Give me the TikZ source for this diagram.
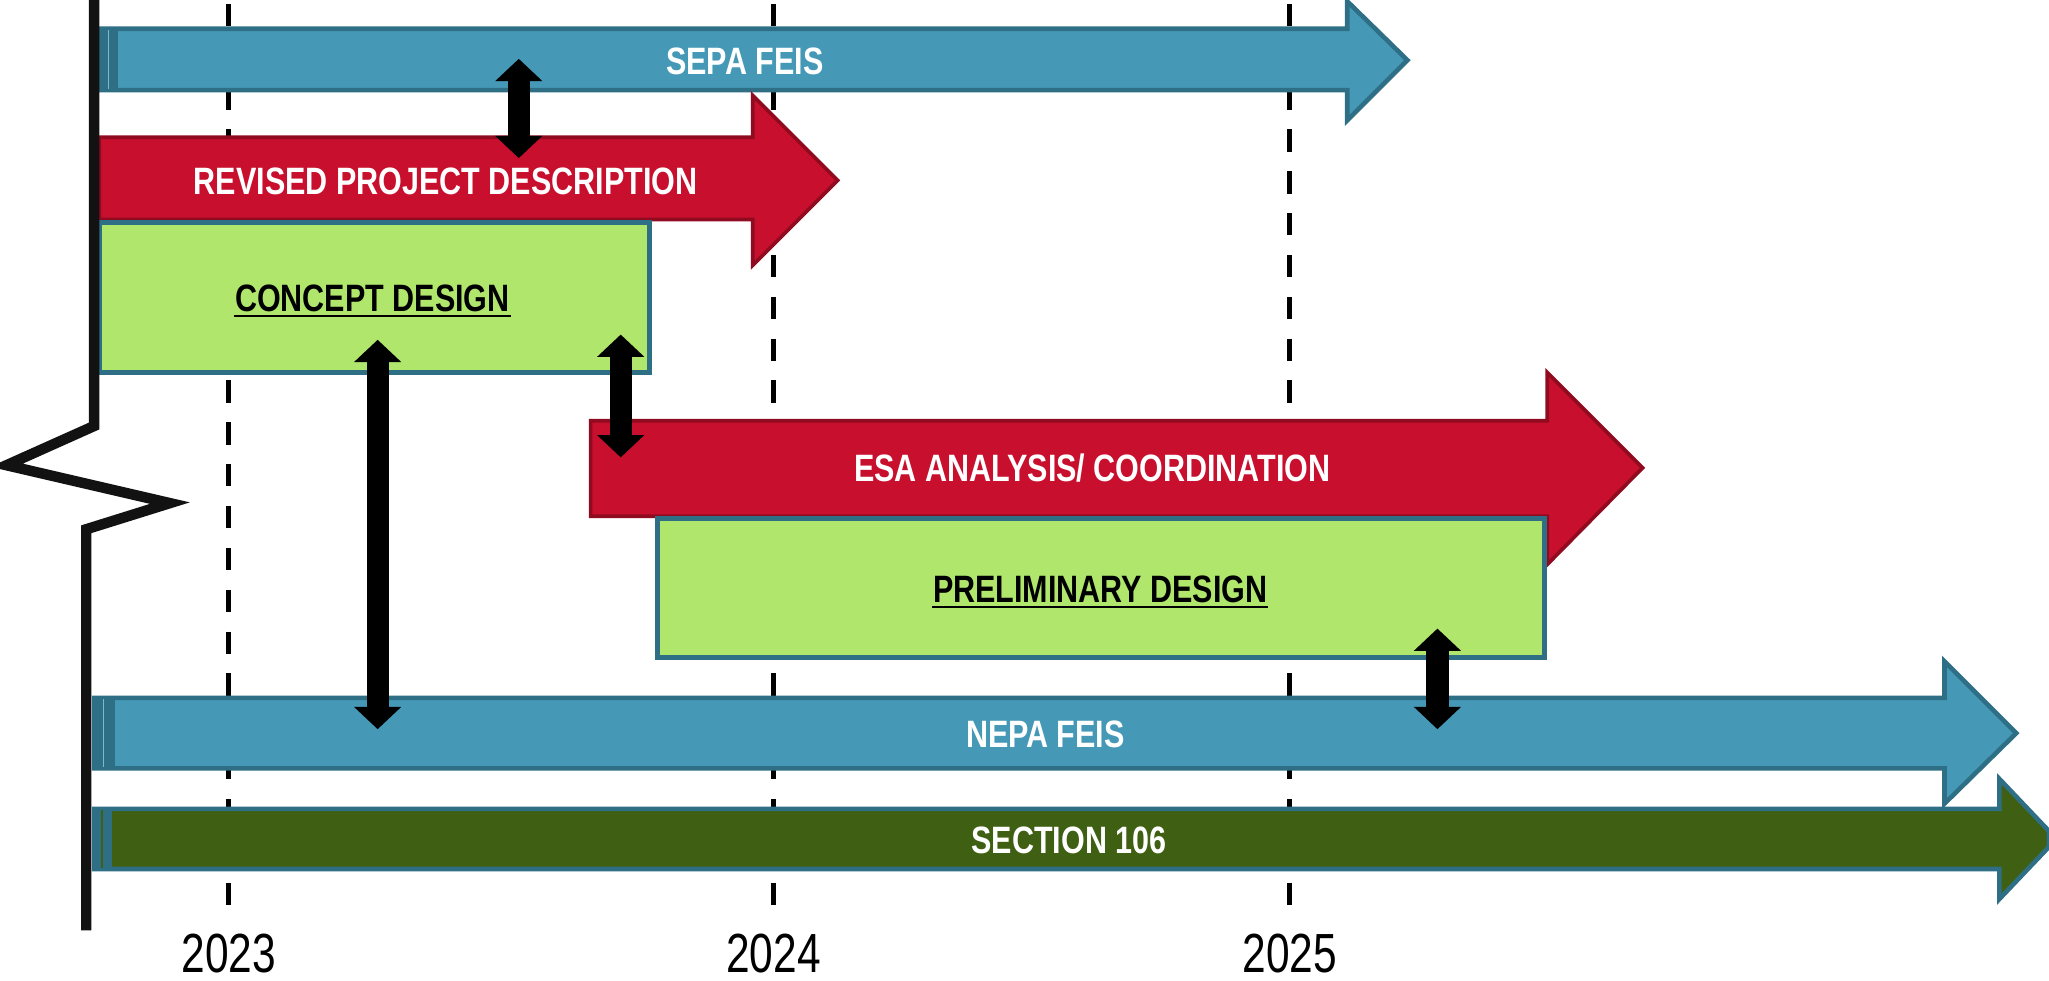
\documentclass[tikz,border=0pt]{standalone}
\usepackage{fontspec}
\usetikzlibrary{arrows.meta}
\newfontfamily\barfont[FakeStretch=0.8]{Liberation Sans}
\newfontfamily\yearfont[FakeStretch=0.77]{Liberation Sans}
\definecolor{blueFill}{HTML}{4599B7}
\definecolor{blueDark}{HTML}{2F6F85}
\definecolor{redFill}{HTML}{C8102E}
\definecolor{redDark}{HTML}{900A20}
\definecolor{lightGreen}{HTML}{B1E66D}
\definecolor{greenDark}{HTML}{3F5F12}
\tikzset{
  bluebar/.style={fill=blueFill, draw=blueDark, line width=0.035cm, line join=miter},
  redbar/.style={fill=redFill, draw=redDark, line width=0.028cm, line join=miter},
  greenbox/.style={fill=lightGreen, draw=blueDark, line width=0.036cm},
  darkbar/.style={fill=greenDark, draw=blueDark, line width=0.035cm, line join=miter},
  barlabel/.style={font=\barfont\bfseries\fontsize{8.3}{10}\selectfont, text=white, inner sep=0pt},
  boxlabel/.style={barlabel, text=black, anchor=base},
  yearlabel/.style={font=\yearfont\fontsize{12}{14}\selectfont, inner sep=0pt, anchor=base},
  gridline/.style={line width=0.035cm, dash pattern=on 0.17cm off 0.15cm},
  axisline/.style={line width=0.08cm, draw=black!93, line join=miter},
  linkarrow/.style={line width=0.17cm, {Triangle[width=0.35cm,length=0.17cm]}-{Triangle[width=0.35cm,length=0.17cm]}},
  underrule/.style={line width=0.018cm},
  strip/.style={fill=blueDark}
}
\begin{document}
\begin{tikzpicture}[x=0.01cm, y=-0.01cm]
\useasboundingbox (0,0) rectangle (1568,750);
% year grid lines
\draw[gridline] (175,3) -- (175,697);
\draw[gridline] (592,3) -- (592,697);
\draw[gridline] (987,3) -- (987,697);
% SEPA FEIS
\draw[bluebar] (76,22) -- (1031,22) -- (1031,1) -- (1077,46) -- (1031,92) -- (1031,69) -- (76,69) -- cycle;
\fill[strip] (76,23) rectangle (90,68);
\draw[blueFill!70, line width=0.3pt] (83,23) -- (83,68);
% Revised project description
\draw[redbar] (76,105) -- (576,105) -- (576,73) -- (641,138) -- (576,203) -- (576,168) -- (76,168) -- cycle;
% Concept design
\draw[greenbox] (76,170) rectangle (497,285);
% ESA analysis
\draw[redbar] (452,322) -- (1184,322) -- (1184,285) -- (1257,358) -- (1184,432) -- (1184,395) -- (452,395) -- cycle;
% Preliminary design
\draw[greenbox] (503,397) rectangle (1182,503);
% NEPA FEIS
\draw[bluebar] (72,534) -- (1488,534) -- (1488,506) -- (1543,561) -- (1488,615) -- (1488,588) -- (72,588) -- cycle;
\fill[strip] (72,535) rectangle (88,587);
\draw[blueFill!70, line width=0.3pt] (79,535) -- (79,587);
% Section 106
\draw[darkbar] (72,619) -- (1530,619) -- (1530,596) -- (1568,636) -- (1568,648) -- (1530,688) -- (1530,665) -- (72,665) -- cycle;
\fill[strip] (72,620) rectangle (86,664);
\draw[greenDark, line width=0.3pt] (78,620) -- (78,664);
% axis with break
\draw[axisline] (72,0) -- (72,326) -- (5,356) -- (130,385) -- (66,405) -- (66,712);
% labels
\node[barlabel] (sepa) at (570,47) {SEPA FEIS};
\node[barlabel] (rpd) at (341,139) {REVISED PROJECT DESCRIPTION};
\node[boxlabel] (cd) at (285,238.5) {CONCEPT DESIGN};
\draw[underrule] ([yshift=-0.035cm]cd.base west) -- ([yshift=-0.035cm]cd.base east);
\node[barlabel] (esa) at (836,358) {ESA ANALYSIS/ COORDINATION};
\node[boxlabel] (pd) at (842,461) {PRELIMINARY DESIGN};
\draw[underrule] ([yshift=-0.035cm]pd.base west) -- ([yshift=-0.035cm]pd.base east);
\node[barlabel] (nepa) at (800,562) {NEPA FEIS};
\node[barlabel] (s106) at (818,643) {SECTION 106};
\node[yearlabel] (y23) at (175,744) {2023};
\node[yearlabel] (y24) at (592,744) {2024};
\node[yearlabel] (y25) at (987,744) {2025};
% link arrow end points
\coordinate (a1t) at (397,45);
\coordinate (a1b) at (397,121);
\coordinate (a2t) at (289,260);
\coordinate (a2b) at (289,558);
\coordinate (a3t) at (475,256);
\coordinate (a3b) at (475,350);
\coordinate (a4t) at (1100,481);
\coordinate (a4b) at (1100,558);
\draw[linkarrow] (a1t) -- (a1b);
\draw[linkarrow] (a2t) -- (a2b);
\draw[linkarrow] (a3t) -- (a3b);
\draw[linkarrow] (a4t) -- (a4b);
\end{tikzpicture}
\end{document}
